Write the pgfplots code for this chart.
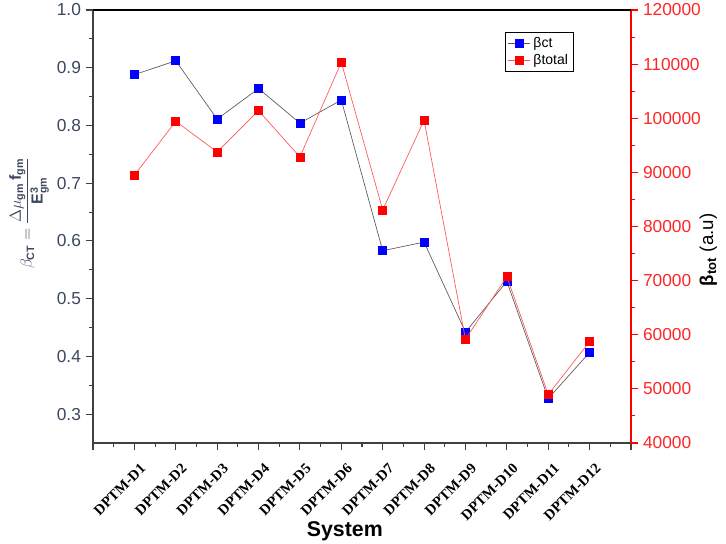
\documentclass[border=0pt]{standalone}
\usepackage{pgfplots}
\pgfplotsset{compat=1.18}
\usepackage{fontspec}
\setmainfont{Liberation Sans}
\newfontfamily\tnr{Liberation Serif}
\definecolor{tickgray}{RGB}{60,70,95}
\definecolor{axgray}{RGB}{64,64,64}
\definecolor{lred}{RGB}{255,85,85}
\definecolor{lgray}{RGB}{90,90,90}
\begin{document}
\begin{tikzpicture}
\begin{axis}[
  name=main,
  scale only axis,
  width=403.5pt, height=324.75pt,
  xmin=0, xmax=13, ymin=0.25, ymax=1.0,
  xtick={0,1,2,3,4,5,6,7,8,9,10,11,12,13},
  xticklabels={{},DPTM-D1,DPTM-D2,DPTM-D3,DPTM-D4,DPTM-D5,DPTM-D6,DPTM-D7,DPTM-D8,DPTM-D9,DPTM-D10,DPTM-D11,DPTM-D12,{}},
  minor x tick num=1,
  ytick={0.3,0.4,0.5,0.6,0.7,0.8,0.9,1.0},
  minor y tick num=1,
  axis x line*=bottom, axis y line*=left,
  tick align=outside,
  major tick length=5.5pt, minor tick length=3pt,
  tick style={axgray, line width=0.8pt},
  axis line style={axgray, line width=0.9pt},
  yticklabel style={/pgf/number format/fixed, /pgf/number format/fixed zerofill, /pgf/number format/precision=1, font=\fontsize{13}{15}\selectfont, text=tickgray},
  /pgf/number format/assume math mode=true,
  xticklabel style={xshift=3.75pt, yshift=-7.5pt, rotate=45, anchor=north east, inner sep=1pt, font=\tnr\bfseries\fontsize{11}{13}\selectfont},
  xlabel={System},
  xlabel style={at={(axis description cs:0.468,0)}, yshift=-66pt, anchor=center, font=\bfseries\fontsize{16}{18}\selectfont},
  ylabel={$\displaystyle\beta_{\mathbf{CT}}=\frac{\Delta\mu_{\mathbf{gm}}\,\mathbf{f}_{\mathbf{gm}}}{\mathbf{E}^{\mathbf{3}}_{\mathbf{gm}}}$},
  ylabel style={at={([xshift=-48pt]axis description cs:0,0.531)}, anchor=center, font=\fontsize{12}{14}\selectfont, text=tickgray},
]
\addplot[lgray, line width=0.5pt, mark=square*, mark size=3pt, mark options={draw=blue, fill=blue}] coordinates {
(1,0.888) (2,0.912) (3,0.811) (4,0.864) (5,0.804) (6,0.844)
(7,0.583) (8,0.598) (9,0.442) (10,0.530) (11,0.327) (12,0.407)};
\end{axis}
\begin{axis}[
  scale only axis,
  width=403.5pt, height=324.75pt,
  xmin=0, xmax=13, ymin=40000, ymax=120000,
  axis x line=none,
  axis y line*=right,
  scaled y ticks=false,
  ytick={40000,50000,60000,70000,80000,90000,100000,110000,120000},
  minor y tick num=1,
  tick align=outside,
  major tick length=5.5pt, minor tick length=3pt,
  tick style={red, line width=0.8pt},
  axis line style={red, line width=0.9pt},
  yticklabel style={/pgf/number format/fixed, /pgf/number format/set thousands separator={}, font=\fontsize{13}{15}\selectfont, text=red!85!white},
  /pgf/number format/assume math mode=true,
  ylabel={{\bfseries β\textsubscript{tot}} (a.u)},
  ylabel style={at={([xshift=58pt]axis description cs:1,0.446)}, anchor=center, font=\fontsize{14}{16}\selectfont, text=black},
  legend style={at={(0.765,0.95)}, anchor=north west, draw=black, line width=0.6pt, font=\fontsize{10.5}{12}\selectfont, inner sep=1.8pt, cells={anchor=west}},
  legend cell align=left,
]
\addlegendimage{lgray, line width=0.5pt, mark=square*, mark size=3pt, mark options={draw=blue, fill=blue}}
\addlegendentry{βct}
\addplot[lred, line width=0.5pt, mark=square*, mark size=3pt, mark options={draw=red, fill=red}] coordinates {
(1,89470) (2,99440) (3,93770) (4,101400) (5,92850) (6,110340)
(7,83060) (8,99630) (9,59180) (10,70740) (11,48950) (12,58740)};
\addlegendentry{βtotal}
\end{axis}
\draw[black, line width=0.9pt] (main.north west) -- (main.north east);
\pgfresetboundingbox
\path[use as bounding box] ([shift={(-69.75pt,-75pt)}]main.south west) rectangle ([shift={(71.25pt,7.5pt)}]main.north east);
\end{tikzpicture}
\end{document}
